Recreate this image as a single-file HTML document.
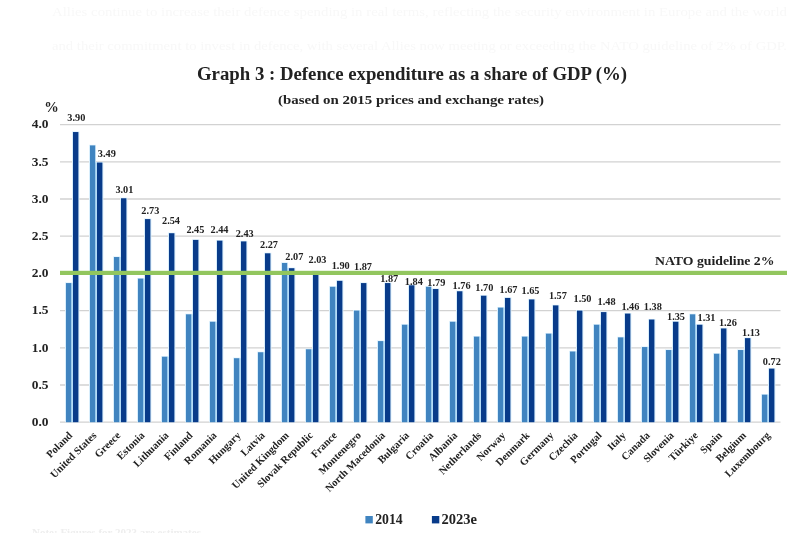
<!DOCTYPE html>
<html><head><meta charset="utf-8"><title>Defence expenditure</title>
<style>
html,body{margin:0;padding:0;background:#fff;width:800px;height:533px;overflow:hidden}
svg{display:block;filter:blur(0.3px)}
text{font-family:"Liberation Serif",serif}
</style></head><body>
<svg width="800" height="533" viewBox="0 0 800 533">
<line x1="60" y1="422.20" x2="780.5" y2="422.20" stroke="#d2d2d2" stroke-width="1.3"/>
<line x1="60" y1="385.00" x2="780.5" y2="385.00" stroke="#d2d2d2" stroke-width="1.3"/>
<line x1="60" y1="347.80" x2="780.5" y2="347.80" stroke="#d2d2d2" stroke-width="1.3"/>
<line x1="60" y1="310.60" x2="780.5" y2="310.60" stroke="#d2d2d2" stroke-width="1.3"/>
<line x1="60" y1="273.40" x2="780.5" y2="273.40" stroke="#d2d2d2" stroke-width="1.3"/>
<line x1="60" y1="236.20" x2="780.5" y2="236.20" stroke="#d2d2d2" stroke-width="1.3"/>
<line x1="60" y1="199.00" x2="780.5" y2="199.00" stroke="#d2d2d2" stroke-width="1.3"/>
<line x1="60" y1="161.80" x2="780.5" y2="161.80" stroke="#d2d2d2" stroke-width="1.3"/>
<line x1="60" y1="124.60" x2="780.5" y2="124.60" stroke="#d2d2d2" stroke-width="1.3"/>
<rect x="65.00" y="282.47" width="7" height="139.73" fill="#d8eefc"/>
<rect x="72.00" y="131.44" width="7.4" height="290.76" fill="#d8eefc"/>
<rect x="71.00" y="283.07" width="2" height="139.13" fill="#b3dcf7"/>
<rect x="66.00" y="283.07" width="5.2" height="139.13" fill="#4084c0"/>
<rect x="73.00" y="132.04" width="5.4" height="290.16" fill="#083b8a"/>
<rect x="89.00" y="144.83" width="7" height="277.37" fill="#d8eefc"/>
<rect x="96.00" y="161.94" width="7.4" height="260.26" fill="#d8eefc"/>
<rect x="95.00" y="162.54" width="2" height="259.66" fill="#b3dcf7"/>
<rect x="90.00" y="145.43" width="5.2" height="276.77" fill="#4084c0"/>
<rect x="97.00" y="162.54" width="5.4" height="259.66" fill="#083b8a"/>
<rect x="113.00" y="256.43" width="7" height="165.77" fill="#d8eefc"/>
<rect x="120.00" y="197.66" width="7.4" height="224.54" fill="#d8eefc"/>
<rect x="119.00" y="257.03" width="2" height="165.17" fill="#b3dcf7"/>
<rect x="114.00" y="257.03" width="5.2" height="165.17" fill="#4084c0"/>
<rect x="121.00" y="198.26" width="5.4" height="223.94" fill="#083b8a"/>
<rect x="137.00" y="278.01" width="7" height="144.19" fill="#d8eefc"/>
<rect x="144.00" y="218.49" width="7.4" height="203.71" fill="#d8eefc"/>
<rect x="143.00" y="278.61" width="2" height="143.59" fill="#b3dcf7"/>
<rect x="138.00" y="278.61" width="5.2" height="143.59" fill="#4084c0"/>
<rect x="145.00" y="219.09" width="5.4" height="203.11" fill="#083b8a"/>
<rect x="161.00" y="356.13" width="7" height="66.07" fill="#d8eefc"/>
<rect x="168.00" y="232.62" width="7.4" height="189.58" fill="#d8eefc"/>
<rect x="167.00" y="356.73" width="2" height="65.47" fill="#b3dcf7"/>
<rect x="162.00" y="356.73" width="5.2" height="65.47" fill="#4084c0"/>
<rect x="169.00" y="233.22" width="5.4" height="188.98" fill="#083b8a"/>
<rect x="185.00" y="313.72" width="7" height="108.48" fill="#d8eefc"/>
<rect x="192.00" y="239.32" width="7.4" height="182.88" fill="#d8eefc"/>
<rect x="191.00" y="314.32" width="2" height="107.88" fill="#b3dcf7"/>
<rect x="186.00" y="314.32" width="5.2" height="107.88" fill="#4084c0"/>
<rect x="193.00" y="239.92" width="5.4" height="182.28" fill="#083b8a"/>
<rect x="209.00" y="321.16" width="7" height="101.04" fill="#d8eefc"/>
<rect x="216.00" y="240.06" width="7.4" height="182.14" fill="#d8eefc"/>
<rect x="215.00" y="321.76" width="2" height="100.44" fill="#b3dcf7"/>
<rect x="210.00" y="321.76" width="5.2" height="100.44" fill="#4084c0"/>
<rect x="217.00" y="240.66" width="5.4" height="181.54" fill="#083b8a"/>
<rect x="233.00" y="357.62" width="7" height="64.58" fill="#d8eefc"/>
<rect x="240.00" y="240.81" width="7.4" height="181.39" fill="#d8eefc"/>
<rect x="239.00" y="358.22" width="2" height="63.98" fill="#b3dcf7"/>
<rect x="234.00" y="358.22" width="5.2" height="63.98" fill="#4084c0"/>
<rect x="241.00" y="241.41" width="5.4" height="180.79" fill="#083b8a"/>
<rect x="257.00" y="351.66" width="7" height="70.54" fill="#d8eefc"/>
<rect x="264.00" y="252.71" width="7.4" height="169.49" fill="#d8eefc"/>
<rect x="263.00" y="352.26" width="2" height="69.94" fill="#b3dcf7"/>
<rect x="258.00" y="352.26" width="5.2" height="69.94" fill="#4084c0"/>
<rect x="265.00" y="253.31" width="5.4" height="168.89" fill="#083b8a"/>
<rect x="281.00" y="262.38" width="7" height="159.82" fill="#d8eefc"/>
<rect x="288.00" y="267.59" width="7.4" height="154.61" fill="#d8eefc"/>
<rect x="287.00" y="268.19" width="2" height="154.01" fill="#b3dcf7"/>
<rect x="282.00" y="262.98" width="5.2" height="159.22" fill="#4084c0"/>
<rect x="289.00" y="268.19" width="5.4" height="154.01" fill="#083b8a"/>
<rect x="305.00" y="348.69" width="7" height="73.51" fill="#d8eefc"/>
<rect x="312.00" y="270.57" width="7.4" height="151.63" fill="#d8eefc"/>
<rect x="311.00" y="349.29" width="2" height="72.91" fill="#b3dcf7"/>
<rect x="306.00" y="349.29" width="5.2" height="72.91" fill="#4084c0"/>
<rect x="313.00" y="271.17" width="5.4" height="151.03" fill="#083b8a"/>
<rect x="329.00" y="286.19" width="7" height="136.01" fill="#d8eefc"/>
<rect x="336.00" y="280.24" width="7.4" height="141.96" fill="#d8eefc"/>
<rect x="335.00" y="286.79" width="2" height="135.41" fill="#b3dcf7"/>
<rect x="330.00" y="286.79" width="5.2" height="135.41" fill="#4084c0"/>
<rect x="337.00" y="280.84" width="5.4" height="141.36" fill="#083b8a"/>
<rect x="353.00" y="310.00" width="7" height="112.20" fill="#d8eefc"/>
<rect x="360.00" y="282.47" width="7.4" height="139.73" fill="#d8eefc"/>
<rect x="359.00" y="310.60" width="2" height="111.60" fill="#b3dcf7"/>
<rect x="354.00" y="310.60" width="5.2" height="111.60" fill="#4084c0"/>
<rect x="361.00" y="283.07" width="5.4" height="139.13" fill="#083b8a"/>
<rect x="377.00" y="340.50" width="7" height="81.70" fill="#d8eefc"/>
<rect x="384.00" y="282.47" width="7.4" height="139.73" fill="#d8eefc"/>
<rect x="383.00" y="341.10" width="2" height="81.10" fill="#b3dcf7"/>
<rect x="378.00" y="341.10" width="5.2" height="81.10" fill="#4084c0"/>
<rect x="385.00" y="283.07" width="5.4" height="139.13" fill="#083b8a"/>
<rect x="401.00" y="324.14" width="7" height="98.06" fill="#d8eefc"/>
<rect x="408.00" y="284.70" width="7.4" height="137.50" fill="#d8eefc"/>
<rect x="407.00" y="324.74" width="2" height="97.46" fill="#b3dcf7"/>
<rect x="402.00" y="324.74" width="5.2" height="97.46" fill="#4084c0"/>
<rect x="409.00" y="285.30" width="5.4" height="136.90" fill="#083b8a"/>
<rect x="425.00" y="286.19" width="7" height="136.01" fill="#d8eefc"/>
<rect x="432.00" y="288.42" width="7.4" height="133.78" fill="#d8eefc"/>
<rect x="431.00" y="289.02" width="2" height="133.18" fill="#b3dcf7"/>
<rect x="426.00" y="286.79" width="5.2" height="135.41" fill="#4084c0"/>
<rect x="433.00" y="289.02" width="5.4" height="133.18" fill="#083b8a"/>
<rect x="449.00" y="321.16" width="7" height="101.04" fill="#d8eefc"/>
<rect x="456.00" y="290.66" width="7.4" height="131.54" fill="#d8eefc"/>
<rect x="455.00" y="321.76" width="2" height="100.44" fill="#b3dcf7"/>
<rect x="450.00" y="321.76" width="5.2" height="100.44" fill="#4084c0"/>
<rect x="457.00" y="291.26" width="5.4" height="130.94" fill="#083b8a"/>
<rect x="473.00" y="336.04" width="7" height="86.16" fill="#d8eefc"/>
<rect x="480.00" y="295.12" width="7.4" height="127.08" fill="#d8eefc"/>
<rect x="479.00" y="336.64" width="2" height="85.56" fill="#b3dcf7"/>
<rect x="474.00" y="336.64" width="5.2" height="85.56" fill="#4084c0"/>
<rect x="481.00" y="295.72" width="5.4" height="126.48" fill="#083b8a"/>
<rect x="497.00" y="307.02" width="7" height="115.18" fill="#d8eefc"/>
<rect x="504.00" y="297.35" width="7.4" height="124.85" fill="#d8eefc"/>
<rect x="503.00" y="307.62" width="2" height="114.58" fill="#b3dcf7"/>
<rect x="498.00" y="307.62" width="5.2" height="114.58" fill="#4084c0"/>
<rect x="505.00" y="297.95" width="5.4" height="124.25" fill="#083b8a"/>
<rect x="521.00" y="336.04" width="7" height="86.16" fill="#d8eefc"/>
<rect x="528.00" y="298.84" width="7.4" height="123.36" fill="#d8eefc"/>
<rect x="527.00" y="336.64" width="2" height="85.56" fill="#b3dcf7"/>
<rect x="522.00" y="336.64" width="5.2" height="85.56" fill="#4084c0"/>
<rect x="529.00" y="299.44" width="5.4" height="122.76" fill="#083b8a"/>
<rect x="545.00" y="333.06" width="7" height="89.14" fill="#d8eefc"/>
<rect x="552.00" y="304.79" width="7.4" height="117.41" fill="#d8eefc"/>
<rect x="551.00" y="333.66" width="2" height="88.54" fill="#b3dcf7"/>
<rect x="546.00" y="333.66" width="5.2" height="88.54" fill="#4084c0"/>
<rect x="553.00" y="305.39" width="5.4" height="116.81" fill="#083b8a"/>
<rect x="569.00" y="350.92" width="7" height="71.28" fill="#d8eefc"/>
<rect x="576.00" y="310.00" width="7.4" height="112.20" fill="#d8eefc"/>
<rect x="575.00" y="351.52" width="2" height="70.68" fill="#b3dcf7"/>
<rect x="570.00" y="351.52" width="5.2" height="70.68" fill="#4084c0"/>
<rect x="577.00" y="310.60" width="5.4" height="111.60" fill="#083b8a"/>
<rect x="593.00" y="324.14" width="7" height="98.06" fill="#d8eefc"/>
<rect x="600.00" y="311.49" width="7.4" height="110.71" fill="#d8eefc"/>
<rect x="599.00" y="324.74" width="2" height="97.46" fill="#b3dcf7"/>
<rect x="594.00" y="324.74" width="5.2" height="97.46" fill="#4084c0"/>
<rect x="601.00" y="312.09" width="5.4" height="110.11" fill="#083b8a"/>
<rect x="617.00" y="336.78" width="7" height="85.42" fill="#d8eefc"/>
<rect x="624.00" y="312.98" width="7.4" height="109.22" fill="#d8eefc"/>
<rect x="623.00" y="337.38" width="2" height="84.82" fill="#b3dcf7"/>
<rect x="618.00" y="337.38" width="5.2" height="84.82" fill="#4084c0"/>
<rect x="625.00" y="313.58" width="5.4" height="108.62" fill="#083b8a"/>
<rect x="641.00" y="346.46" width="7" height="75.74" fill="#d8eefc"/>
<rect x="648.00" y="318.93" width="7.4" height="103.27" fill="#d8eefc"/>
<rect x="647.00" y="347.06" width="2" height="75.14" fill="#b3dcf7"/>
<rect x="642.00" y="347.06" width="5.2" height="75.14" fill="#4084c0"/>
<rect x="649.00" y="319.53" width="5.4" height="102.67" fill="#083b8a"/>
<rect x="665.00" y="349.43" width="7" height="72.77" fill="#d8eefc"/>
<rect x="672.00" y="321.16" width="7.4" height="101.04" fill="#d8eefc"/>
<rect x="671.00" y="350.03" width="2" height="72.17" fill="#b3dcf7"/>
<rect x="666.00" y="350.03" width="5.2" height="72.17" fill="#4084c0"/>
<rect x="673.00" y="321.76" width="5.4" height="100.44" fill="#083b8a"/>
<rect x="689.00" y="313.72" width="7" height="108.48" fill="#d8eefc"/>
<rect x="696.00" y="324.14" width="7.4" height="98.06" fill="#d8eefc"/>
<rect x="695.00" y="324.74" width="2" height="97.46" fill="#b3dcf7"/>
<rect x="690.00" y="314.32" width="5.2" height="107.88" fill="#4084c0"/>
<rect x="697.00" y="324.74" width="5.4" height="97.46" fill="#083b8a"/>
<rect x="713.00" y="353.15" width="7" height="69.05" fill="#d8eefc"/>
<rect x="720.00" y="327.86" width="7.4" height="94.34" fill="#d8eefc"/>
<rect x="719.00" y="353.75" width="2" height="68.45" fill="#b3dcf7"/>
<rect x="714.00" y="353.75" width="5.2" height="68.45" fill="#4084c0"/>
<rect x="721.00" y="328.46" width="5.4" height="93.74" fill="#083b8a"/>
<rect x="737.00" y="349.43" width="7" height="72.77" fill="#d8eefc"/>
<rect x="744.00" y="337.53" width="7.4" height="84.67" fill="#d8eefc"/>
<rect x="743.00" y="350.03" width="2" height="72.17" fill="#b3dcf7"/>
<rect x="738.00" y="350.03" width="5.2" height="72.17" fill="#4084c0"/>
<rect x="745.00" y="338.13" width="5.4" height="84.07" fill="#083b8a"/>
<rect x="761.00" y="394.07" width="7" height="28.13" fill="#d8eefc"/>
<rect x="768.00" y="368.03" width="7.4" height="54.17" fill="#d8eefc"/>
<rect x="767.00" y="394.67" width="2" height="27.53" fill="#b3dcf7"/>
<rect x="762.00" y="394.67" width="5.2" height="27.53" fill="#4084c0"/>
<rect x="769.00" y="368.63" width="5.4" height="53.57" fill="#083b8a"/>
<rect x="60" y="270.8" width="727" height="4.2" fill="#92c65e"/>
<text x="48.5" y="426.00" text-anchor="end" font-size="13.4" font-weight="bold" fill="#222222">0.0</text>
<text x="48.5" y="388.80" text-anchor="end" font-size="13.4" font-weight="bold" fill="#222222">0.5</text>
<text x="48.5" y="351.60" text-anchor="end" font-size="13.4" font-weight="bold" fill="#222222">1.0</text>
<text x="48.5" y="314.40" text-anchor="end" font-size="13.4" font-weight="bold" fill="#222222">1.5</text>
<text x="48.5" y="277.20" text-anchor="end" font-size="13.4" font-weight="bold" fill="#222222">2.0</text>
<text x="48.5" y="240.00" text-anchor="end" font-size="13.4" font-weight="bold" fill="#222222">2.5</text>
<text x="48.5" y="202.80" text-anchor="end" font-size="13.4" font-weight="bold" fill="#222222">3.0</text>
<text x="48.5" y="165.60" text-anchor="end" font-size="13.4" font-weight="bold" fill="#222222">3.5</text>
<text x="48.5" y="128.40" text-anchor="end" font-size="13.4" font-weight="bold" fill="#222222">4.0</text>
<text x="44.3" y="112" font-size="14.5" font-weight="bold" fill="#222222">%</text>
<text x="76.30" y="120.80" text-anchor="middle" font-size="10.3" font-weight="bold" fill="#222222">3.90</text>
<text x="106.80" y="156.80" text-anchor="middle" font-size="10.3" font-weight="bold" fill="#222222">3.49</text>
<text x="124.40" y="192.50" text-anchor="middle" font-size="10.3" font-weight="bold" fill="#222222">3.01</text>
<text x="150.30" y="213.50" text-anchor="middle" font-size="10.3" font-weight="bold" fill="#222222">2.73</text>
<text x="171.00" y="224.40" text-anchor="middle" font-size="10.3" font-weight="bold" fill="#222222">2.54</text>
<text x="195.40" y="232.80" text-anchor="middle" font-size="10.3" font-weight="bold" fill="#222222">2.45</text>
<text x="219.50" y="232.80" text-anchor="middle" font-size="10.3" font-weight="bold" fill="#222222">2.44</text>
<text x="244.70" y="237.00" text-anchor="middle" font-size="10.3" font-weight="bold" fill="#222222">2.43</text>
<text x="269.00" y="247.50" text-anchor="middle" font-size="10.3" font-weight="bold" fill="#222222">2.27</text>
<text x="294.30" y="259.80" text-anchor="middle" font-size="10.3" font-weight="bold" fill="#222222">2.07</text>
<text x="317.50" y="263.30" text-anchor="middle" font-size="10.3" font-weight="bold" fill="#222222">2.03</text>
<text x="340.70" y="268.50" text-anchor="middle" font-size="10.3" font-weight="bold" fill="#222222">1.90</text>
<text x="363.00" y="269.80" text-anchor="middle" font-size="10.3" font-weight="bold" fill="#222222">1.87</text>
<text x="389.20" y="282.30" text-anchor="middle" font-size="10.3" font-weight="bold" fill="#222222">1.87</text>
<text x="413.80" y="284.50" text-anchor="middle" font-size="10.3" font-weight="bold" fill="#222222">1.84</text>
<text x="436.30" y="286.30" text-anchor="middle" font-size="10.3" font-weight="bold" fill="#222222">1.79</text>
<text x="461.60" y="288.80" text-anchor="middle" font-size="10.3" font-weight="bold" fill="#222222">1.76</text>
<text x="484.30" y="291.30" text-anchor="middle" font-size="10.3" font-weight="bold" fill="#222222">1.70</text>
<text x="508.50" y="293.30" text-anchor="middle" font-size="10.3" font-weight="bold" fill="#222222">1.67</text>
<text x="530.50" y="294.00" text-anchor="middle" font-size="10.3" font-weight="bold" fill="#222222">1.65</text>
<text x="557.90" y="299.20" text-anchor="middle" font-size="10.3" font-weight="bold" fill="#222222">1.57</text>
<text x="582.50" y="302.00" text-anchor="middle" font-size="10.3" font-weight="bold" fill="#222222">1.50</text>
<text x="606.60" y="304.80" text-anchor="middle" font-size="10.3" font-weight="bold" fill="#222222">1.48</text>
<text x="630.40" y="309.50" text-anchor="middle" font-size="10.3" font-weight="bold" fill="#222222">1.46</text>
<text x="652.80" y="309.80" text-anchor="middle" font-size="10.3" font-weight="bold" fill="#222222">1.38</text>
<text x="676.00" y="320.00" text-anchor="middle" font-size="10.3" font-weight="bold" fill="#222222">1.35</text>
<text x="706.50" y="321.00" text-anchor="middle" font-size="10.3" font-weight="bold" fill="#222222">1.31</text>
<text x="727.90" y="325.80" text-anchor="middle" font-size="10.3" font-weight="bold" fill="#222222">1.26</text>
<text x="751.00" y="336.00" text-anchor="middle" font-size="10.3" font-weight="bold" fill="#222222">1.13</text>
<text x="771.80" y="364.90" text-anchor="middle" font-size="10.3" font-weight="bold" fill="#222222">0.72</text>
<text x="73.00" y="436.00" text-anchor="end" transform="rotate(-45 73.00 436.00)" font-size="10.6" font-weight="bold" fill="#222222">Poland</text>
<text x="97.06" y="436.00" text-anchor="end" transform="rotate(-45 97.06 436.00)" font-size="10.6" font-weight="bold" fill="#222222">United States</text>
<text x="121.12" y="436.00" text-anchor="end" transform="rotate(-45 121.12 436.00)" font-size="10.6" font-weight="bold" fill="#222222">Greece</text>
<text x="145.18" y="436.00" text-anchor="end" transform="rotate(-45 145.18 436.00)" font-size="10.6" font-weight="bold" fill="#222222">Estonia</text>
<text x="169.24" y="436.00" text-anchor="end" transform="rotate(-45 169.24 436.00)" font-size="10.6" font-weight="bold" fill="#222222">Lithuania</text>
<text x="193.30" y="436.00" text-anchor="end" transform="rotate(-45 193.30 436.00)" font-size="10.6" font-weight="bold" fill="#222222">Finland</text>
<text x="217.36" y="436.00" text-anchor="end" transform="rotate(-45 217.36 436.00)" font-size="10.6" font-weight="bold" fill="#222222">Romania</text>
<text x="241.42" y="436.00" text-anchor="end" transform="rotate(-45 241.42 436.00)" font-size="10.6" font-weight="bold" fill="#222222">Hungary</text>
<text x="265.48" y="436.00" text-anchor="end" transform="rotate(-45 265.48 436.00)" font-size="10.6" font-weight="bold" fill="#222222">Latvia</text>
<text x="289.54" y="436.00" text-anchor="end" transform="rotate(-45 289.54 436.00)" font-size="10.6" font-weight="bold" fill="#222222">United Kingdom</text>
<text x="313.60" y="436.00" text-anchor="end" transform="rotate(-45 313.60 436.00)" font-size="10.6" font-weight="bold" fill="#222222">Slovak Republic</text>
<text x="337.66" y="436.00" text-anchor="end" transform="rotate(-45 337.66 436.00)" font-size="10.6" font-weight="bold" fill="#222222">France</text>
<text x="361.72" y="436.00" text-anchor="end" transform="rotate(-45 361.72 436.00)" font-size="10.6" font-weight="bold" fill="#222222">Montenegro</text>
<text x="385.78" y="436.00" text-anchor="end" transform="rotate(-45 385.78 436.00)" font-size="10.6" font-weight="bold" fill="#222222">North Macedonia</text>
<text x="409.84" y="436.00" text-anchor="end" transform="rotate(-45 409.84 436.00)" font-size="10.6" font-weight="bold" fill="#222222">Bulgaria</text>
<text x="433.90" y="436.00" text-anchor="end" transform="rotate(-45 433.90 436.00)" font-size="10.6" font-weight="bold" fill="#222222">Croatia</text>
<text x="457.96" y="436.00" text-anchor="end" transform="rotate(-45 457.96 436.00)" font-size="10.6" font-weight="bold" fill="#222222">Albania</text>
<text x="482.02" y="436.00" text-anchor="end" transform="rotate(-45 482.02 436.00)" font-size="10.6" font-weight="bold" fill="#222222">Netherlands</text>
<text x="506.08" y="436.00" text-anchor="end" transform="rotate(-45 506.08 436.00)" font-size="10.6" font-weight="bold" fill="#222222">Norway</text>
<text x="530.14" y="436.00" text-anchor="end" transform="rotate(-45 530.14 436.00)" font-size="10.6" font-weight="bold" fill="#222222">Denmark</text>
<text x="554.20" y="436.00" text-anchor="end" transform="rotate(-45 554.20 436.00)" font-size="10.6" font-weight="bold" fill="#222222">Germany</text>
<text x="578.26" y="436.00" text-anchor="end" transform="rotate(-45 578.26 436.00)" font-size="10.6" font-weight="bold" fill="#222222">Czechia</text>
<text x="602.32" y="436.00" text-anchor="end" transform="rotate(-45 602.32 436.00)" font-size="10.6" font-weight="bold" fill="#222222">Portugal</text>
<text x="626.38" y="436.00" text-anchor="end" transform="rotate(-45 626.38 436.00)" font-size="10.6" font-weight="bold" fill="#222222">Italy</text>
<text x="650.44" y="436.00" text-anchor="end" transform="rotate(-45 650.44 436.00)" font-size="10.6" font-weight="bold" fill="#222222">Canada</text>
<text x="674.50" y="436.00" text-anchor="end" transform="rotate(-45 674.50 436.00)" font-size="10.6" font-weight="bold" fill="#222222">Slovenia</text>
<text x="698.56" y="436.00" text-anchor="end" transform="rotate(-45 698.56 436.00)" font-size="10.6" font-weight="bold" fill="#222222">Türkiye</text>
<text x="722.62" y="436.00" text-anchor="end" transform="rotate(-45 722.62 436.00)" font-size="10.6" font-weight="bold" fill="#222222">Spain</text>
<text x="746.68" y="436.00" text-anchor="end" transform="rotate(-45 746.68 436.00)" font-size="10.6" font-weight="bold" fill="#222222">Belgium</text>
<text x="770.74" y="436.00" text-anchor="end" transform="rotate(-45 770.74 436.00)" font-size="10.6" font-weight="bold" fill="#222222">Luxembourg</text>
<text x="197" y="80.3" font-size="18.5" font-weight="bold" fill="#222222" textLength="430" lengthAdjust="spacingAndGlyphs">Graph 3 : Defence expenditure as a share of GDP (%)</text>
<text x="278" y="103.9" font-size="13.2" font-weight="bold" fill="#222222" textLength="266" lengthAdjust="spacingAndGlyphs">(based on 2015 prices and exchange rates)</text>
<text x="655" y="265" font-size="13.5" font-weight="bold" fill="#222222" textLength="119.5" lengthAdjust="spacingAndGlyphs">NATO guideline 2%</text>
<text x="32" y="535.5" font-size="11" font-weight="bold" fill="#eeeeee">Note: Figures for 2023 are estimates.</text>
<text x="52" y="16" font-size="12" fill="#f8f8f8" textLength="735" lengthAdjust="spacingAndGlyphs">Allies continue to increase their defence spending in real terms, reflecting the security environment in Europe and the world</text>
<text x="52" y="50" font-size="12" fill="#f8f8f8" textLength="735" lengthAdjust="spacingAndGlyphs">and their commitment to invest in defence, with several Allies now meeting or exceeding the NATO guideline of 2% of GDP.</text>
<rect x="365.4" y="516" width="7.4" height="7.4" fill="#4084c0"/>
<text x="375.2" y="524.0" font-size="15.0" font-weight="bold" fill="#222222" textLength="27.5" lengthAdjust="spacingAndGlyphs">2014</text>
<rect x="431.9" y="516" width="7.4" height="7.4" fill="#083b8a"/>
<text x="441.5" y="524.0" font-size="15.0" font-weight="bold" fill="#222222" textLength="35.5" lengthAdjust="spacingAndGlyphs">2023e</text>
</svg>
</body></html>
